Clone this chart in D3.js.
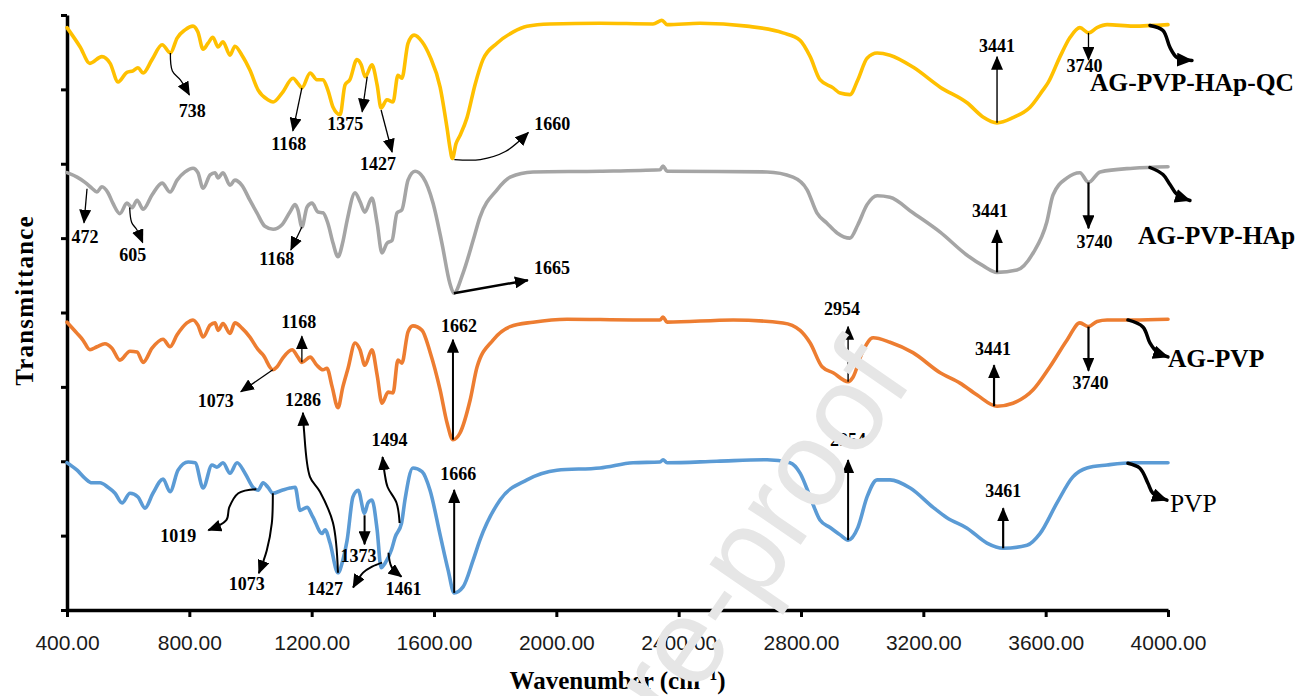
<!DOCTYPE html>
<html>
<head>
<meta charset="utf-8">
<script src="https://cdn.jsdelivr.net/npm/d3@7"></script>
<style>
  html, body { margin: 0; padding: 0; background: #fff; }
  svg { display: block; }
</style>
</head>
<body>
<svg id="chart" width="1302" height="696"></svg>
<script>
// FTIR spectra (stacked transmittance, arbitrary units) against wavenumber in cm-1

const xTicks = [400, 800, 1200, 1600, 2000, 2400, 2800, 3200, 3600, 4000];
const yTicks = [0, 1, 2, 3, 4, 5, 6, 7, 8];

// [wavenumber, transmittance]
const specQC = [[400,7.83],[443,7.57],[475,7.35],[514,7.44],[541,7.35],[567,7.10],[596,7.23],[616,7.25],[632,7.29],[649,7.22],[678,7.40],[711,7.60],[738,7.49],[760,7.69],[786,7.80],[812,7.85],[828,7.77],[845,7.54],[861,7.62],[877,7.70],[894,7.57],[910,7.64],[933,7.46],[949,7.58],[972,7.46],[998,7.26],[1025,6.99],[1057,6.86],[1074,6.83],[1103,6.95],[1139,7.15],[1155,7.08],[1168,7.02],[1195,7.22],[1217,7.13],[1237,7.13],[1253,6.99],[1270,6.76],[1293,6.66],[1309,7.06],[1325,7.13],[1348,7.40],[1362,7.33],[1375,7.17],[1397,7.33],[1414,7.06],[1427,6.75],[1446,6.86],[1466,6.83],[1482,7.19],[1495,7.15],[1515,7.62],[1535,7.73],[1561,7.64],[1587,7.44],[1620,7.03],[1643,6.47],[1652,6.22],[1660,6.07],[1672,6.27],[1685,6.38],[1708,6.62],[1734,7.06],[1760,7.40],[1806,7.62],[1858,7.77],[1904,7.85],[1979,7.88],[2143,7.89],[2316,7.88],[2339,7.92],[2345,7.93],[2362,7.87],[2470,7.89],[2623,7.85],[2741,7.76],[2797,7.66],[2830,7.44],[2862,7.13],[2905,7.02],[2928,6.95],[2960,6.93],[2986,7.13],[3016,7.42],[3049,7.49],[3091,7.46],[3166,7.30],[3255,7.03],[3343,6.82],[3395,6.63],[3441,6.55],[3493,6.62],[3549,6.76],[3591,6.99],[3608,7.09],[3647,7.44],[3680,7.70],[3712,7.83],[3740,7.76],[3768,7.83],[3801,7.87],[3886,7.85],[4000,7.87]];

const specHAp = [[400,5.88],[433,5.82],[459,5.75],[482,5.67],[498,5.62],[514,5.69],[534,5.61],[550,5.47],[573,5.33],[596,5.47],[613,5.41],[629,5.51],[649,5.39],[678,5.58],[711,5.74],[737,5.62],[760,5.78],[786,5.89],[812,5.94],[828,5.88],[845,5.67],[868,5.85],[884,5.88],[894,5.81],[910,5.88],[933,5.71],[949,5.78],[972,5.71],[998,5.51],[1021,5.34],[1047,5.16],[1074,5.12],[1103,5.18],[1129,5.35],[1146,5.45],[1155,5.38],[1168,5.15],[1185,5.42],[1201,5.47],[1221,5.35],[1237,5.34],[1253,5.20],[1270,4.93],[1286,4.75],[1302,4.95],[1316,5.24],[1342,5.61],[1358,5.49],[1374,5.35],[1397,5.54],[1414,5.20],[1430,4.80],[1446,4.93],[1463,4.97],[1479,5.34],[1495,5.38],[1515,5.78],[1538,5.90],[1564,5.82],[1597,5.47],[1626,4.93],[1652,4.39],[1665,4.26],[1695,4.53],[1728,4.97],[1750,5.28],[1806,5.65],[1849,5.82],[1924,5.89],[2143,5.90],[2339,5.92],[2349,5.97],[2362,5.90],[2689,5.89],[2774,5.82],[2820,5.65],[2852,5.34],[2885,5.20],[2918,5.07],[2960,5.00],[2986,5.18],[3016,5.45],[3049,5.57],[3091,5.55],[3166,5.34],[3255,5.08],[3343,4.77],[3395,4.63],[3441,4.54],[3506,4.57],[3559,4.80],[3604,5.22],[3624,5.58],[3670,5.81],[3712,5.88],[3740,5.75],[3778,5.89],[3886,5.94],[4000,5.96]];

const specAG = [[400,3.87],[433,3.72],[452,3.63],[475,3.50],[498,3.54],[524,3.58],[547,3.52],[573,3.36],[606,3.48],[629,3.47],[649,3.33],[678,3.52],[714,3.64],[737,3.54],[760,3.70],[792,3.86],[812,3.90],[828,3.83],[845,3.67],[868,3.83],[884,3.86],[894,3.76],[910,3.85],[933,3.72],[949,3.86],[972,3.79],[998,3.67],[1025,3.50],[1041,3.43],[1073,3.23],[1087,3.27],[1106,3.39],[1136,3.50],[1155,3.40],[1168,3.33],[1195,3.40],[1217,3.29],[1237,3.23],[1250,3.25],[1267,3.00],[1286,2.72],[1302,3.00],[1319,3.25],[1342,3.59],[1358,3.50],[1374,3.29],[1397,3.50],[1414,3.16],[1430,2.78],[1450,2.93],[1466,2.92],[1482,3.36],[1495,3.32],[1515,3.74],[1531,3.82],[1561,3.76],[1587,3.47],[1620,2.96],[1643,2.51],[1662,2.29],[1685,2.38],[1718,2.82],[1741,3.27],[1793,3.63],[1849,3.81],[1924,3.87],[2035,3.91],[2251,3.90],[2339,3.90],[2349,3.94],[2362,3.87],[2578,3.90],[2741,3.86],[2797,3.76],[2830,3.59],[2869,3.27],[2905,3.19],[2954,3.07],[2970,3.13],[3000,3.46],[3036,3.66],[3091,3.60],[3166,3.46],[3255,3.19],[3320,3.05],[3376,2.89],[3441,2.74],[3493,2.78],[3559,2.96],[3614,3.27],[3670,3.63],[3712,3.86],[3740,3.81],[3768,3.88],[3801,3.90],[3886,3.90],[4000,3.91]];

const specPVP = [[400,1.98],[433,1.88],[459,1.77],[482,1.71],[508,1.71],[534,1.65],[557,1.57],[580,1.44],[606,1.57],[632,1.52],[655,1.37],[681,1.57],[714,1.76],[737,1.59],[763,1.88],[796,1.99],[819,1.98],[845,1.64],[874,1.95],[890,1.92],[910,1.98],[933,1.84],[956,1.98],[982,1.84],[1008,1.65],[1025,1.61],[1041,1.71],[1057,1.65],[1073,1.57],[1103,1.61],[1129,1.64],[1146,1.65],[1162,1.34],[1185,1.38],[1204,1.25],[1234,1.03],[1244,1.08],[1260,0.90],[1286,0.50],[1302,0.67],[1316,0.94],[1335,1.52],[1352,1.61],[1373,1.30],[1384,1.44],[1397,1.48],[1414,1.08],[1427,0.57],[1440,0.63],[1461,0.81],[1473,0.98],[1494,1.17],[1505,1.48],[1531,1.91],[1561,1.86],[1587,1.61],[1620,1.01],[1646,0.54],[1666,0.23],[1695,0.31],[1728,0.67],[1750,0.94],[1816,1.48],[1904,1.75],[2002,1.88],[2143,1.91],[2251,1.98],[2339,1.99],[2349,2.02],[2362,1.98],[2525,2.00],[2689,2.02],[2764,1.98],[2797,1.84],[2830,1.52],[2862,1.21],[2895,1.11],[2928,1.01],[2954,0.94],[2986,1.11],[3016,1.52],[3049,1.75],[3091,1.75],[3157,1.64],[3232,1.38],[3277,1.24],[3343,1.10],[3408,0.90],[3461,0.83],[3539,0.87],[3582,1.03],[3637,1.44],[3689,1.79],[3735,1.91],[3801,1.95],[3886,1.98],[4000,1.98]];

const seriesNames = ["PVP", "AG-PVP", "AG-PVP-HAp", "AG-PVP-HAp-QC"];
const seriesData = [specPVP, specAG, specHAp, specQC];
const seriesColors = ["#5B9BD5", "#ED7D31", "#A5A5A5", "#FFC000"];

// Peak call-outs: wn = wavenumber the arrow starts from (on the curve),
// path = arrow offsets in px from that point, at = label offset (baseline centre).
const peakNotes = [
  // AG-PVP-HAp-QC
  { s: 3, wn: 738,  text: "738",  path: [[0,0],[2,18],[10,27],[19,42]], at: [22,64] },
  { s: 3, wn: 1168, text: "1168", path: [[0,0],[-9,43]], at: [-13,62] },
  { s: 3, wn: 1375, text: "1375", path: [[2,0],[-3,35]], at: [-20,53] },
  { s: 3, wn: 1427, text: "1427", path: [[0,2],[11,44]], at: [-3,62] },
  { s: 3, wn: 1660, text: "1660", path: [[2,1],[28,1],[53,-7],[76,-26]], at: [100,-29] },
  { s: 3, wn: 3441, text: "3441", path: [[0,0],[0,-66]], sw: 1.4, at: [0,-71] },
  { s: 3, wn: 3740, text: "3740", path: [[0,0],[0,27]], at: [-4,39] },
  // AG-PVP-HAp
  { s: 2, wn: 472,  text: "472",  path: [[-2,3],[-5,37]], at: [-4,57] },
  { s: 2, wn: 605,  text: "605",  path: [[0,2],[2,17],[7,24],[13,37]], at: [3,55] },
  { s: 2, wn: 1168, text: "1168", path: [[0,0],[-11,23]], at: [-25,38] },
  { s: 2, wn: 1665, text: "1665", path: [[0,0],[74,-13]], sw: 2.5, at: [98,-19] },
  { s: 2, wn: 3441, text: "3441", path: [[0,0],[0,-42]], sw: 2.2, at: [-7,-55] },
  { s: 2, wn: 3740, text: "3740", path: [[0,0],[0,46]], sw: 2.2, at: [6,66] },
  // AG-PVP
  { s: 1, wn: 1168, text: "1168", path: [[0,0],[0,-26]], at: [-3,-34] },
  { s: 1, wn: 1073, text: "1073", path: [[0,0],[-32,22]], at: [-57,37] },
  { s: 1, wn: 1662, text: "1662", path: [[0,0],[0,-100]], sw: 2, at: [6,-108] },
  { s: 1, wn: 2954, text: "2954", path: [[0,0],[0,-55]], sw: 1.4, at: [-6,-67] },
  { s: 1, wn: 3441, text: "3441", path: [[-3,0],[-3,-41]], sw: 2.2, at: [-4,-51] },
  { s: 1, wn: 3740, text: "3740", path: [[0,0],[0,44]], sw: 2.2, at: [2,62] },
  // PVP
  { s: 0, wn: 1019, text: "1019", path: [[0,0],[-18,4],[-27,18],[-30,31],[-48,41]], sw: 2, at: [-78,53] },
  { s: 0, wn: 1073, text: "1073", path: [[0,0],[-1,30],[-6,57],[-14,80]], sw: 2, at: [-26,97] },
  { s: 0, wn: 1286, text: "1286", path: [[0,0],[-5,-50],[-18,-81],[-28,-96],[-34,-143],[-35,-160]], sw: 2, at: [-35,-167] },
  { s: 0, wn: 1373, text: "1373", path: [[0,2],[0,31]], sw: 2, at: [-6,49] },
  { s: 0, wn: 1427, text: "1427", path: [[1,-5],[-9,-1],[-18,5],[-28,20]], sw: 2, at: [-56,27] },
  { s: 0, wn: 1461, text: "1461", path: [[-3,3],[0,17],[10,27]], sw: 2, at: [12,45] },
  { s: 0, wn: 1494, text: "1494", path: [[-2,0],[-5,-20],[-14,-36],[-17,-50],[-19,-66]], sw: 2, at: [-12,-77] },
  { s: 0, wn: 1666, text: "1666", path: [[0,0],[0,-103]], sw: 2, at: [4,-113] },
  { s: 0, wn: 2954, text: "2954", path: [[0,0],[0,-80]], sw: 2, at: [0,-94] },
  { s: 0, wn: 3461, text: "3461", path: [[0,0],[0,-40]], sw: 2.2, at: [0,-51] }
];

// Sample names, each with a bold curved pointer leaving its trace near the high-wavenumber end
const nameNotes = [
  { s: 3, wn: 3941, path: [[0,0],[13,5],[20,22],[27,32],[42,35]], at: [-60,66], bold: true },
  { s: 2, wn: 3941, path: [[0,0],[13,7],[20,17],[27,27],[40,33]], at: [-12,77], bold: true },
  { s: 1, wn: 3869, path: [[0,0],[15,7],[22,23],[29,32],[40,37]], at: [40,47], bold: true },
  { s: 0, wn: 3869, path: [[0,0],[12,5],[20,20],[25,30],[39,37]], at: [42,49], bold: false }
];

const plot = { left: 67, right: 1168, top: 15, bottom: 610 };

const svg = d3.select("#chart");

const x = d3.scaleLinear().domain([400, 4000]).range([plot.left, plot.right]);
const y = d3.scaleLinear().domain([0, 8]).range([plot.bottom, plot.top]);

// linear interpolation of a trace at a given wavenumber
function valueAt(spec, wn) {
  const i = d3.bisector(d => d[0]).left(spec, wn);
  if (i <= 0) return spec[0][1];
  if (i >= spec.length) return spec[spec.length - 1][1];
  const a = spec[i - 1], b = spec[i];
  const t = (wn - a[0]) / (b[0] - a[0]);
  return a[1] + t * (b[1] - a[1]);
}

// arrowheads
const defs = svg.append("defs");
defs.append("marker")
  .attr("id", "tip").attr("viewBox", "0 0 14 12")
  .attr("refX", 13).attr("refY", 6)
  .attr("markerWidth", 14).attr("markerHeight", 12)
  .attr("markerUnits", "userSpaceOnUse").attr("orient", "auto")
  .append("path").attr("d", "M0,0L14,6L0,12Z").attr("fill", "#000");
defs.append("marker")
  .attr("id", "tipBig").attr("viewBox", "0 0 16 14")
  .attr("refX", 15).attr("refY", 7)
  .attr("markerWidth", 16).attr("markerHeight", 14)
  .attr("markerUnits", "userSpaceOnUse").attr("orient", "auto")
  .append("path").attr("d", "M0,0L16,7L0,14Z").attr("fill", "#000");

// axes
const xAxis = d3.axisBottom(x)
  .tickValues(xTicks)
  .tickFormat(d3.format(".2f"))
  .tickSizeInner(7).tickSizeOuter(0).tickPadding(18);
const gx = svg.append("g")
  .attr("transform", `translate(0,${plot.bottom})`)
  .call(xAxis);
gx.select(".domain").attr("stroke", "#000").attr("stroke-width", 3.5);
gx.selectAll(".tick line").attr("stroke", "#000").attr("stroke-width", 3);
gx.selectAll(".tick text")
  .attr("fill", "#1a1a1a")
  .style("font-family", "'Liberation Sans', Arial, sans-serif")
  .style("font-size", "21px");

const yAxis = d3.axisLeft(y)
  .tickValues(yTicks)
  .tickFormat("")
  .tickSizeInner(6).tickSizeOuter(0);
const gy = svg.append("g")
  .attr("transform", `translate(${plot.left},0)`)
  .call(yAxis);
gy.select(".domain").attr("stroke", "#000").attr("stroke-width", 3.5);
gy.selectAll(".tick line").attr("stroke", "#000").attr("stroke-width", 3);

// axis titles
svg.append("text")
  .attr("x", (plot.left + plot.right) / 2).attr("y", 689)
  .attr("text-anchor", "middle")
  .style("font-family", "'Liberation Serif', 'Times New Roman', serif")
  .style("font-weight", "bold").style("font-size", "25px")
  .call(t => {
    t.append("tspan").text("Wavenumber (cm");
    t.append("tspan").text("\u22121").attr("dy", -9).style("font-size", "16px");
    t.append("tspan").text(")").attr("dy", 9);
  });

svg.append("text")
  .attr("transform", `translate(33,${(plot.top + plot.bottom) / 2 - 12}) rotate(-90)`)
  .attr("text-anchor", "middle")
  .style("font-family", "'Liberation Serif', 'Times New Roman', serif")
  .style("font-weight", "bold").style("font-size", "25px")
  .style("letter-spacing", "1.2px")
  .text("Transmittance");

// spectra
const line = d3.line()
  .x(d => x(d[0]))
  .y(d => y(d[1]))
  .curve(d3.curveMonotoneX);

svg.append("g").selectAll("path")
  .data(seriesData)
  .join("path")
  .attr("d", line)
  .attr("fill", "none")
  .attr("stroke", (d, i) => seriesColors[i])
  .attr("stroke-width", 3.6)
  .attr("stroke-linejoin", "round")
  .attr("stroke-linecap", "round");

// call-outs
const arrowLine = d3.line().curve(d3.curveCatmullRom.alpha(0.5));
const gNotes = svg.append("g");

peakNotes.forEach(n => {
  const ax = x(n.wn), ay = y(valueAt(seriesData[n.s], n.wn));
  const pts = n.path.map(p => [ax + p[0], ay + p[1]]);
  gNotes.append("path")
    .attr("d", arrowLine(pts))
    .attr("fill", "none")
    .attr("stroke", "#000")
    .attr("stroke-width", n.sw || 1.3)
    .attr("marker-end", "url(#tip)");
  gNotes.append("text")
    .attr("x", ax + n.at[0]).attr("y", ay + n.at[1])
    .attr("text-anchor", "middle")
    .style("font-family", "'Liberation Serif', 'Times New Roman', serif")
    .style("font-weight", "bold").style("font-size", "18px")
    .text(n.text);
});

nameNotes.forEach(n => {
  const ax = x(n.wn), ay = y(valueAt(seriesData[n.s], n.wn));
  const pts = n.path.map(p => [ax + p[0], ay + p[1]]);
  gNotes.append("path")
    .attr("d", arrowLine(pts))
    .attr("fill", "none")
    .attr("stroke", "#000")
    .attr("stroke-width", 3.5)
    .attr("stroke-linecap", "round")
    .attr("marker-end", "url(#tipBig)");
  gNotes.append("text")
    .attr("x", ax + n.at[0]).attr("y", ay + n.at[1])
    .attr("text-anchor", "start")
    .style("font-family", "'Liberation Serif', 'Times New Roman', serif")
    .style("font-weight", n.bold ? "bold" : "normal")
    .style("font-size", "25.5px")
    .text(seriesNames[n.s]);
});

// faint diagonal watermark drawn over the plot
svg.append("text")
  .attr("transform", "translate(914,380) rotate(-55.5)")
  .attr("text-anchor", "end")
  .style("font-family", "'Liberation Sans', Arial, sans-serif")
  .style("font-size", "121px")
  .attr("fill", "#e6e6e6")
  .text("Journal Pre-proof");
</script>
</body>
</html>
